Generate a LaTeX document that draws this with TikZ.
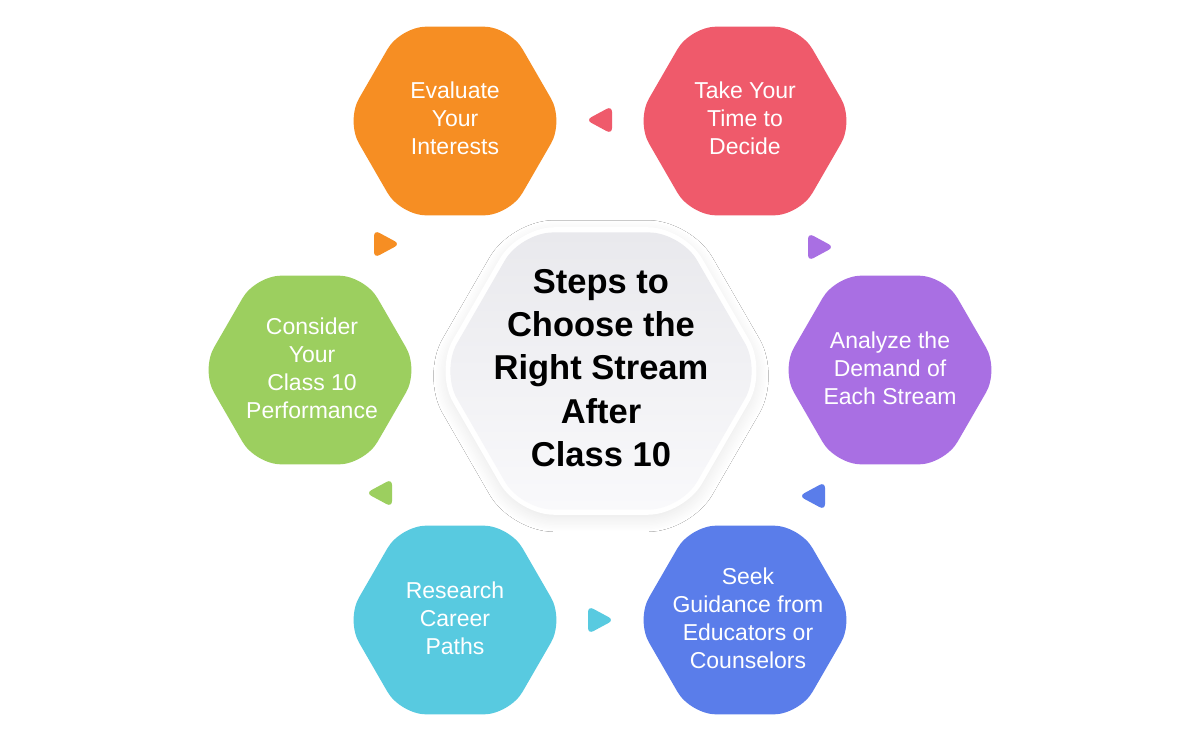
\documentclass[tikz,border=0pt]{standalone}
\usepackage{fontspec}
\setmainfont{Liberation Sans}
\usetikzlibrary{shapes.geometric,shadows.blur}
\definecolor{cOrange}{HTML}{F68E23}
\definecolor{cRed}{HTML}{EF5A6B}
\definecolor{cPurple}{HTML}{A96FE3}
\definecolor{cBlue}{HTML}{5A7DEA}
\definecolor{cCyan}{HTML}{58CAE0}
\definecolor{cGreen}{HTML}{9CCF5F}
\definecolor{cTop}{HTML}{E9E9ED}
\definecolor{cBot}{HTML}{F9F9FB}
\tikzset{
  hexa/.style={regular polygon, regular polygon sides=6, minimum size=218pt, inner sep=0pt, rounded corners=26pt, fill=#1},
  lbl/.style={text=white, align=center, font=\fontsize{23}{28}\selectfont},
  tri/.style={fill=#1, rounded corners=6pt},
}
\newcommand\triR[3]{\fill[tri=#3] (#1-12,#2-14) -- (#1+14,#2) -- (#1-12,#2+14) -- cycle;}
\newcommand\triL[3]{\fill[tri=#3] (#1+12,#2-14) -- (#1-14,#2) -- (#1+12,#2+14) -- cycle;}
\begin{document}
\begin{tikzpicture}[x=1pt,y=-1pt]
\useasboundingbox[fill=white] (0,0) rectangle (1200,742);
% outer hexagons
\node[hexa=cOrange] (h1) at (455,121) {};
\node[hexa=cRed] (h2) at (745,121) {};
\node[hexa=cPurple] (h3) at (890,370) {};
\node[hexa=cBlue] (h4) at (745,620) {};
\node[hexa=cCyan] (h5) at (455,620) {};
\node[hexa=cGreen] (h6) at (310,370) {};
% centre hexagon
\node[regular polygon, regular polygon sides=6, minimum size=332pt, inner sep=0pt, rounded corners=36pt,
  fill=white,
  blur shadow={shadow blur steps=20, shadow xshift=0pt, shadow yshift=-5pt, shadow opacity=9, shadow blur radius=12pt, shadow blur extra rounding=10pt}] (c) at (601,371) {};
\node[regular polygon, regular polygon sides=6, minimum size=320pt, inner sep=0pt, rounded corners=32pt,
  top color=cTop, bottom color=cBot] (ci) at (601,371) {};
\node[align=center, font=\bfseries\fontsize{34.5}{43.3}\selectfont] (ct) at (601,368) {Steps to\\Choose the\\Right Stream\\After\\Class 10};
% labels
\node[lbl] (t1) at (455,118) {Evaluate\\Your\\Interests};
\node[lbl] (t2) at (745,118) {Take Your\\Time to\\Decide};
\node[lbl] (t3) at (890,368) {Analyze the\\Demand of\\Each Stream};
\node[lbl] (t4) at (748,618) {Seek\\Guidance from\\Educators or\\Counselors};
\node[lbl] (t5) at (455,618) {Research\\Career\\Paths};
\node[lbl] (t6) at (312,368) {Consider\\Your\\Class 10\\Performance};
% triangles
\triL{600}{120}{cRed}
\triR{386}{244}{cOrange}
\triR{820}{247}{cPurple}
\triL{380}{493}{cGreen}
\triL{813}{496}{cBlue}
\triR{600}{620}{cCyan}
\end{tikzpicture}
\end{document}
